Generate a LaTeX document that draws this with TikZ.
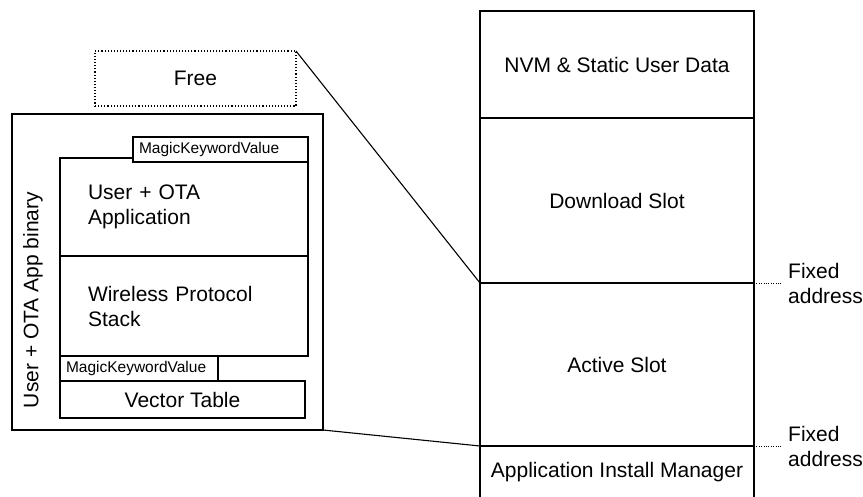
\documentclass[tikz,border=0pt]{standalone}
\usepackage{fontspec}
\setmainfont{Liberation Sans}
\tikzset{
  slot/.style={draw, line width=1.1pt, minimum width=274pt, inner sep=0pt, outer sep=0pt, font=\fontsize{21}{25}\selectfont},
  part/.style={draw, line width=1.1pt, fill=white, inner sep=0pt, outer sep=0pt, font=\fontsize{21}{25}\selectfont},
  partleft/.style={part, inner xsep=28pt, align=left},
  tag/.style={draw, line width=1.1pt, fill=white, inner xsep=6pt, inner ysep=0pt, outer sep=0pt, minimum height=25pt, align=left, font=\fontsize{15.5}{18}\selectfont},
  note/.style={anchor=west, inner xsep=6pt, inner ysep=0pt, align=left, font=\fontsize{21}{25}\selectfont},
}
\begin{document}
\begin{tikzpicture}[x=1pt,y=-1pt]
\useasboundingbox (0,0) rectangle (863,496);

% flash memory map
\node[slot, minimum height=107pt] (nvm) at (617,64.5) {NVM \& Static User Data};
\node[slot, minimum height=165pt] (dl) at (617,200.5) {Download Slot};
\node[slot, minimum height=163pt] (act) at (617,364.5) {Active Slot};
\node[slot, minimum height=52pt] (aim) at (617,472) {Application Install Manager};

\node[note] (fix1) at (782,283) {Fixed\\address};
\node[note] (fix2) at (782,446) {Fixed\\address};

% application binary
\node[part, dotted, minimum width=201pt, minimum height=55pt] (free) at (195.5,78.5) {Free};
\node[part, minimum width=311pt, minimum height=316pt] (bin) at (167.5,272) {};
\node[rotate=90, font=\fontsize{21}{25}\selectfont] (binlabel) at (33,300) {User + OTA App binary};
\node[partleft, minimum width=248pt, minimum height=98pt, text width=192pt] (app) at (184,207) {User + OTA\\Application};
\node[partleft, minimum width=248pt, minimum height=100pt, text width=192pt] (stack) at (184,306) {Wireless Protocol\\Stack};
\node[tag, text width=163pt] (magic1) at (220.5,149.5) {MagicKeywordValue};
\node[tag, text width=146pt] (magic2) at (139,368.5) {MagicKeywordValue};
\node[part, minimum width=245pt, minimum height=37pt] (vec) at (182.5,399.5) {Vector Table};

\path[draw,line width=1.1pt] (free.north east) -- (dl.south west);
\path[draw,line width=1.1pt] (bin.south east) -- (aim.north west);
\path[draw,dotted] (dl.south east) -- (fix1.west);
\path[draw,dotted] (act.south east) -- (fix2.west);
\end{tikzpicture}
\end{document}
